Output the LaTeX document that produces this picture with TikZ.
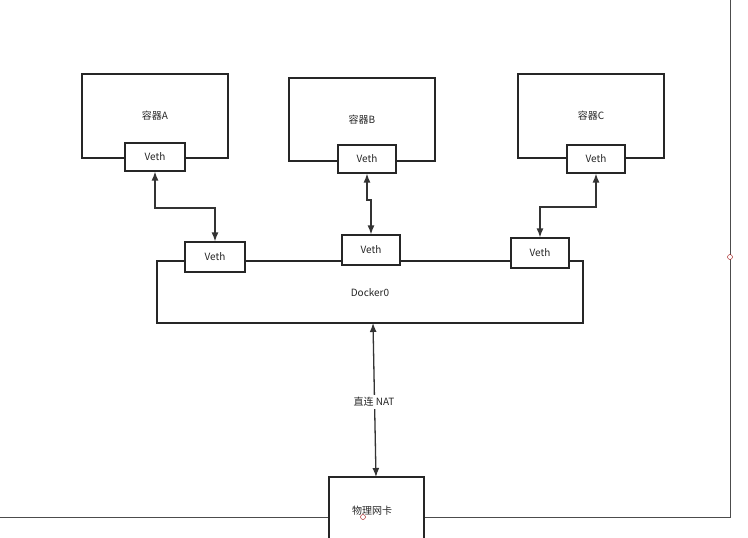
\documentclass[tikz,border=0pt]{standalone}
\usepackage{fontspec}
\setmainfont{Liberation Sans}
\newfontfamily\cjk{Noto Sans CJK SC}
\usetikzlibrary{arrows.meta}
\begin{document}
\begin{tikzpicture}[x=1pt,y=-1pt,
  box/.style={draw=black!85,line width=1.2pt,fill=white,inner sep=0pt},
  lbl/.style={font=\cjk\fontsize{10}{10}\selectfont,text=black!85},
  arr/.style={line width=1.3pt,black!80,{Latex[length=9pt,width=7pt]}-{Latex[length=9pt,width=7pt]}}]
\useasboundingbox (0,0) rectangle (748,538);
\draw[line width=1pt,black!70] (730,0) -- (730,517) -- (0,517);
\node[draw=red!60!black,circle,inner sep=0pt,minimum size=5pt,fill=white] (c1) at (730,257) {};
% containers
\node[box,minimum width=146pt,minimum height=84pt] (A) at (155,116) {};
\node[lbl] at (155,116) {容器A};
\node[box,minimum width=146pt,minimum height=83pt] (B) at (362,119.5) {};
\node[lbl] at (362,120) {容器B};
\node[box,minimum width=146pt,minimum height=84pt] (C) at (591,116) {};
\node[lbl] at (591,116) {容器C};
\node[box,minimum width=60pt,minimum height=28pt,lbl] (va) at (155,157) {Veth};
\node[box,minimum width=58pt,minimum height=28pt,lbl] (vb) at (367,159) {Veth};
\node[box,minimum width=58pt,minimum height=28pt,lbl] (vc) at (596,159) {Veth};
% docker0
\node[box,minimum width=426pt,minimum height=62pt] (D) at (370,292) {};
\node[lbl] at (370,293) {Docker0};
\node[box,minimum width=60pt,minimum height=30pt,lbl] (da) at (215,257) {Veth};
\node[box,minimum width=58pt,minimum height=30pt,lbl] (db) at (371,250) {Veth};
\node[box,minimum width=58pt,minimum height=30pt,lbl] (dc) at (540,253) {Veth};
% NIC
\node[box,minimum width=95pt,minimum height=70pt] (N) at (376.5,512) {};
\node[lbl] at (372,511) {物理网卡};
\node[draw=red!60!black,circle,inner sep=0pt,minimum size=5pt] (c2) at (363,517) {};
% connectors
\draw[arr] (va.south) -- (155,208) -- (215,208) -- (da.north);
\draw[arr] (vb.south) -- (367,200) -- (371,200) -- (db.north);
\draw[arr] (vc.south) -- (596,207) -- (540,207) -- (dc.north);
\draw[arr] (373,323) -- (376,477);
\node[lbl,fill=white,inner sep=2pt] (nat) at (374,402) {直连 NAT};
\end{tikzpicture}
\end{document}
